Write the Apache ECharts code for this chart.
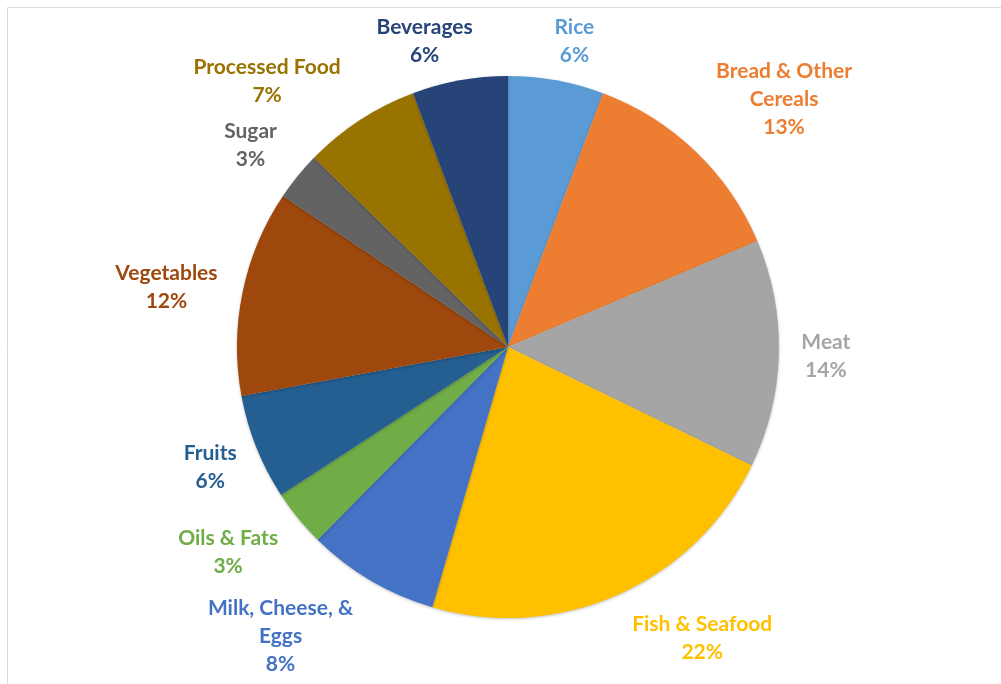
<!DOCTYPE html>
<html><head><meta charset="utf-8">
<script src="https://cdn.jsdelivr.net/npm/echarts@6/dist/echarts.min.js"></script>
<style>html,body{margin:0;padding:0;background:#fff}#c{width:1001px;height:684px}</style>
</head><body><div id="c"></div>
<script>
var categories = ['Rice','Bread & Other\nCereals','Meat','Fish & Seafood','Milk, Cheese, &\nEggs','Oils & Fats','Fruits','Vegetables','Sugar','Processed Food','Beverages'];
var shares = [5.7, 12.9, 13.6, 22.3, 7.9, 3.4, 6.3, 12.3, 2.9, 7.0, 5.7];
var colors = ['#5B9BD5','#ED7D31','#A5A5A5','#FFC000','#4472C4','#70AD47','#255E91','#9E480E','#636363','#997300','#264478'];

// label nudges (layout only)
var nudges = [[11,0],[61,-23],[7,1],[68,7],[-70,21],[-39,9],[-9,5],[-37,3],[-16,-6],[-71,-5],[-28,0]];

var chart = echarts.init(document.getElementById('c'));
chart.setOption({
  animation: false,
  graphic: [{type:'rect', shape:{x:7.5,y:7.5,width:1200,height:1000}, style:{fill:'none', stroke:'#D9D9D9', lineWidth:1}, silent:true}],
  series: [{
    type: 'pie',
    center: [508, 347],
    radius: 271,
    startAngle: 90,
    clockwise: true,
    avoidLabelOverlap: false,
    data: categories.map(function(n,i){
      return {name:n, value:shares[i], itemStyle:{color:colors[i]}, label:{color:colors[i]}};
    }),
    itemStyle: {borderWidth:0, shadowBlur:3, shadowColor:'rgba(0,0,0,0.25)', shadowOffsetY:1},
    label: {
      show: true, position: 'outside',
      fontFamily: 'Lato', fontWeight: 'bold', fontSize: 21, lineHeight: 28,
      align: 'center',
      formatter: function(p){ return p.name + '\n' + Math.round(p.percent) + '%'; }
    },
    labelLine: {show:false, length:40, length2:0},
    labelLayout: function(p){
      var e = p.labelLinePoints ? p.labelLinePoints[1] : [p.labelRect.x, p.labelRect.y];
      var n = nudges[p.dataIndex];
      return {x: e[0] + n[0], y: e[1] + n[1], align:'center', verticalAlign:'middle'};
    }
  }]
});
</script></body></html>
